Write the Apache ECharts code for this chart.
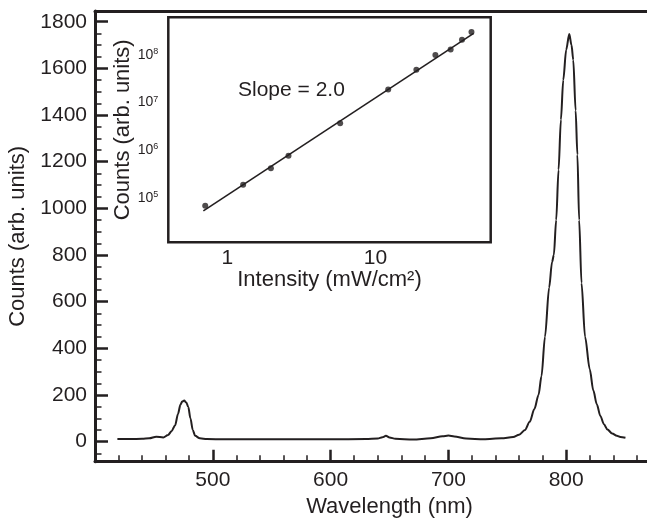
<!DOCTYPE html>
<html lang="en">
<head>
<meta charset="UTF-8">
<title>Spectrum</title>
<style>html,body{margin:0;padding:0;background:#fff;overflow:hidden}</style>
</head>
<body>
<div id="main" style="width:647px;height:519px;"></div>

<script src="https://cdn.jsdelivr.net/npm/echarts@6/dist/echarts.min.js"></script>
<script type="text/javascript">
    // main spectrum
    var wavelength = [419, 430, 440, 446, 452, 458, 462, 465, 468, 470.5, 472.5, 474, 475.7, 477.5, 479.2, 481, 483, 485, 489, 495,
        510, 530, 560, 600, 630, 640, 644, 647, 650, 655, 670, 685, 695, 700, 705, 715, 730, 745, 755, 760,
        765, 769, 773, 776.5, 779, 782, 785.5, 788, 789.5, 791.5, 793.5, 795.5, 797.5, 800, 802.6, 804.5, 806, 808, 809.5, 811,
        813, 816, 820, 823, 826, 829, 832, 835, 839, 843, 846, 850.3];
    var counts = [11, 11, 12, 14, 21, 18, 28, 45, 70, 120, 158, 172, 176, 168, 148, 100, 50, 25, 14, 11,
        10, 10, 10, 10, 11, 13, 19, 25, 18, 12, 9, 14, 23, 26, 22, 13, 10, 14, 20, 30,
        50, 85, 140, 200, 280, 450, 660, 770, 800, 950, 1165, 1380, 1550, 1680, 1747, 1700, 1636, 1420, 1230, 950,
        680, 450, 310, 220, 160, 110, 75, 52, 35, 25, 20, 17];
    var yTicks = [0, 200, 400, 600, 800, 1000, 1200, 1400, 1600, 1800];
    var yMinor = [-50];
    for (var i = 0; i < yTicks.length - 1; i++) {
        yMinor.push(yTicks[i] + 50, yTicks[i] + 100, yTicks[i] + 150);
    }

    // inset: counts vs intensity
    var intensity = [0.71, 1.28, 1.97, 2.59, 5.78, 12.2, 18.9, 25.4, 32.2, 38.4, 44.5];
    var signal = [6.8e4, 1.88e5, 4.15e5, 7.6e5, 3.66e6, 1.89e7, 4.89e7, 9.96e7, 1.31e8, 2.08e8, 3.03e8];
    var fitX = [0.69, 46];
    var fitY = [5.3e4, 2.85e8];
    var insetXTicks = [1, 10];
    var insetXMinor = [0.5, 0.6, 0.7, 0.8, 0.9, 2, 3, 4, 5, 6, 7, 8, 9, 20, 30, 40, 50];
    var insetYTicks = [1e5, 1e6, 1e7, 1e8];
    var insetYMinor = [];
    [1e4, 1e5, 1e6, 1e7, 1e8].forEach(function (d) {
        for (var k = 2; k <= 9; k++) insetYMinor.push(k * d);
    });

    var ink = '#231f20';
    var font = 'Liberation Sans';

    var myChart = echarts.init(document.getElementById('main'));
    option = {
        animation: false,
        textStyle: {fontFamily: font, color: ink},
        grid: [
            {left: 95, top: 11, width: 589, height: 450.7, outerBoundsMode: 'none'},
            {left: 168.3, top: 17.3, width: 322.4, height: 225, show: true, outerBoundsMode: 'none',
                borderColor: ink, borderWidth: 2.5, backgroundColor: '#fff', z: 5}
        ],
        graphic: [{
            type: 'text', left: 238, top: 80, z: 100,
            style: {text: 'Slope = 2.0', fontSize: 21, fontFamily: font, fill: ink}
        }],
        xAxis: [
            {   // main bottom axis
                type: 'value', gridIndex: 0, position: 'bottom', min: 400, max: 900, interval: 100,
                name: 'Wavelength (nm)', nameLocation: 'middle', nameGap: 34,
                nameTextStyle: {fontSize: 22, color: ink, fontFamily: font},
                axisLine: {onZero: false, lineStyle: {color: ink, width: 3}},
                axisTick: {inside: true, length: 12, lineStyle: {color: ink, width: 2.5}},
                minorTick: {show: true, splitNumber: 5, length: 6.5, lineStyle: {color: ink, width: 1.5}},
                axisLabel: {fontSize: 21, color: ink, margin: 8, fontFamily: font,
                    formatter: function (v) { return (v === 400 || v === 900) ? '' : String(v); }},
                splitLine: {show: false}
            },
            {   // main top frame line
                type: 'value', gridIndex: 0, position: 'top', min: 400, max: 900,
                axisLine: {onZero: false, lineStyle: {color: ink, width: 3}},
                axisTick: {show: false}, axisLabel: {show: false}, splitLine: {show: false}
            },
            {   // inset x
                type: 'log', gridIndex: 1, position: 'bottom', min: 0.4, max: 60,
                name: 'Intensity (mW/cm²)', nameLocation: 'middle', nameGap: 24,
                nameTextStyle: {fontSize: 22, color: ink, fontFamily: font},
                axisLine: {show: false, onZero: false},
                axisTick: {inside: true, length: 12, customValues: insetXTicks, lineStyle: {color: ink, width: 2}},
                axisLabel: {fontSize: 21, color: ink, margin: 5, fontFamily: font, customValues: insetXTicks},
                splitLine: {show: false}
            },
            {   // inset x minor ticks
                type: 'log', gridIndex: 1, position: 'bottom', min: 0.4, max: 60,
                axisLine: {show: false, onZero: false},
                axisTick: {inside: true, length: 6, customValues: insetXMinor, lineStyle: {color: ink, width: 1.2}},
                axisLabel: {show: false}, splitLine: {show: false}
            }
        ],
        yAxis: [
            {   // main left axis
                type: 'value', gridIndex: 0, position: 'left', min: -86, max: 1846,
                name: 'Counts (arb. units)', nameLocation: 'middle', nameGap: 61,
                nameTextStyle: {fontSize: 22, color: ink, fontFamily: font},
                axisLine: {onZero: false, lineStyle: {color: ink, width: 3}},
                axisTick: {inside: true, length: 13, customValues: yTicks, lineStyle: {color: ink, width: 2.5}},
                axisLabel: {fontSize: 21, color: ink, margin: 8, fontFamily: font, customValues: yTicks,
                    formatter: function (v) { return String(v); }},
                splitLine: {show: false}
            },
            {   // main left minor ticks
                type: 'value', gridIndex: 0, position: 'left', min: -86, max: 1846,
                axisLine: {show: false, onZero: false},
                axisTick: {inside: true, length: 6.5, customValues: yMinor, lineStyle: {color: ink, width: 1.5}},
                axisLabel: {show: false}, splitLine: {show: false}
            },
            {   // inset y
                type: 'log', gridIndex: 1, position: 'left', min: 1.16e4, max: 6.2e8,
                name: 'Counts (arb. units)', nameLocation: 'middle', nameGap: 32,
                nameTextStyle: {fontSize: 22, color: ink, fontFamily: font},
                axisLine: {show: false, onZero: false},
                axisTick: {inside: true, length: 12, customValues: insetYTicks, lineStyle: {color: ink, width: 2}},
                axisLabel: {color: ink, margin: 10, fontFamily: font, customValues: insetYTicks,
                    formatter: function (v) {
                        return '{b|10}{s|' + Math.round(Math.log10(v)) + '}';
                    },
                    rich: {
                        b: {fontSize: 14, lineHeight: 16, fontFamily: font, color: ink},
                        s: {fontSize: 9, lineHeight: 16, verticalAlign: 'top', fontFamily: font, color: ink}
                    }},
                splitLine: {show: false}
            },
            {   // inset y minor ticks
                type: 'log', gridIndex: 1, position: 'left', min: 1.16e4, max: 6.2e8,
                axisLine: {show: false, onZero: false},
                axisTick: {inside: true, length: 6, customValues: insetYMinor, lineStyle: {color: ink, width: 1.2}},
                axisLabel: {show: false}, splitLine: {show: false}
            }
        ],
        series: [
            {
                name: 'spectrum', type: 'line', xAxisIndex: 0, yAxisIndex: 0,
                data: wavelength.map(function (w, i) { return [w, counts[i]]; }),
                smooth: 0.3, smoothMonotone: 'x', showSymbol: false,
                lineStyle: {color: ink, width: 2}
            },
            {
                name: 'fit', type: 'line', xAxisIndex: 2, yAxisIndex: 2, z: 10,
                data: fitX.map(function (x, i) { return [x, fitY[i]]; }),
                showSymbol: false, lineStyle: {color: ink, width: 1.6}
            },
            {
                name: 'data', type: 'scatter', xAxisIndex: 2, yAxisIndex: 2, z: 11,
                data: intensity.map(function (x, i) { return [x, signal[i]]; }),
                symbolSize: 6, itemStyle: {color: ink}
            }
        ]
    };
    myChart.setOption(option);
</script>
</body>
</html>
